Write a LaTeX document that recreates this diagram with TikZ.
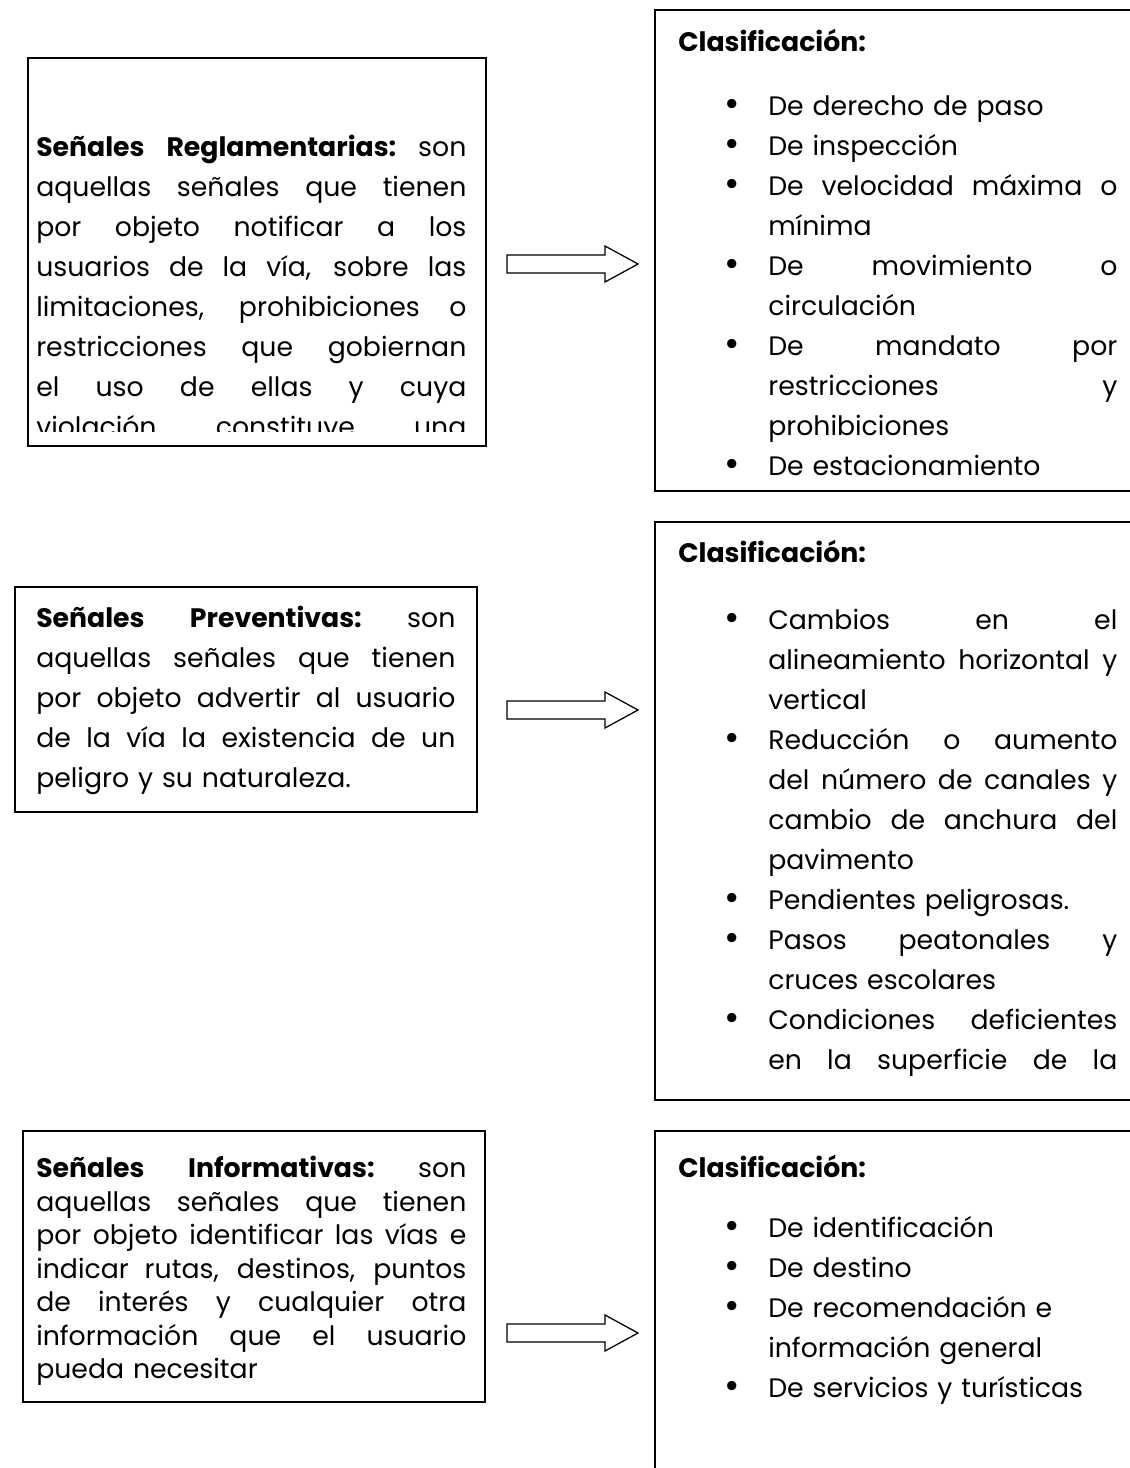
\documentclass[tikz,border=0pt]{standalone}
\usepackage{fontspec}
\setmainfont{Poppins}
\usetikzlibrary{fit}
\newlength{\izqw}\setlength{\izqw}{10.75cm}
\newlength{\prevw}\setlength{\prevw}{10.475cm}
\newlength{\derw}\setlength{\derw}{8.725cm}
\tikzset{
  cajaline/.style={draw=black,line width=1.3pt,inner sep=0pt},
  flechaline/.style={draw=black,line width=0.9pt,fill=white},
  txtizq/.style={inner sep=0pt,anchor=north west,align=left,text width=\izqw,
    font=\fontsize{19}{28.45}\selectfont},
  txtder/.style={inner sep=0pt,anchor=north west,align=left,text width=\derw,
    font=\fontsize{19}{28.45}\selectfont},
  titulo/.style={inner sep=0pt,anchor=north west,font=\fontsize{19}{28.45}\selectfont\bfseries},
}
% linea justificada
\newcommand{\jl}[2][\izqw]{\makebox[#1][s]{%
  \spaceskip=\fontdimen2\font plus 1fil\relax\xspaceskip=\spaceskip #2}}
\newcommand{\bul}{\leavevmode\llap{\raisebox{-0.06em}{\scalebox{1.4}{\textbullet}}\hspace{0.72cm}}}
% caja: nombre, x1, y1, x2, y2
\newcommand{\caja}[5]{%
  \node[cajaline,fit={(#2,#3) (#4,#5)}] (#1) {};}
% flecha de bloque: nombre, x, y
\newcommand{\flecha}[3]{%
  \coordinate (#1) at (#2,#3);
  \draw[flechaline] (#1) ++(0,-9) -- ++(98,0) -- ++(0,-9) -- ++(33,18)
    -- ++(-33,18) -- ++(0,-9) -- ++(-98,0) -- cycle;}

\begin{document}
\begin{tikzpicture}[x=0.025cm,y=-0.025cm]
  \useasboundingbox (0,0) rectangle (1130,1468);
  % cajas
  \caja{regl}{28}{58}{486}{446}
  \caja{reglcl}{655}{10}{1145}{491}
  \caja{prev}{15}{587}{477}{812}
  \caja{prevcl}{655}{522}{1145}{1100}
  \caja{info}{23}{1131}{485}{1402}
  \caja{infocl}{655}{1131}{1145}{1490}
  % textos
  \begin{scope}
    \clip (28,58) rectangle (486,431);
    \node[txtizq] (reglt) at (36,128) {\strut\jl{\textbf{Señales Reglamentarias:} son}\\
      \jl{aquellas señales que tienen}\\ \jl{por objeto notificar a los}\\
      \jl{usuarios de la vía, sobre las}\\ \jl{limitaciones, prohibiciones o}\\
      \jl{restricciones que gobiernan}\\ \jl{el uso de ellas y cuya}\\
      \jl{violación constituye una}};
  \end{scope}
  \node[titulo] (reglclt) at (678,23) {\strut Clasificación:};
  \node[txtder] (reglcll) at (768,87) {\strut\bul De derecho de paso\\
    \bul De inspección\\ \bul\jl[\derw]{De velocidad máxima o}\\ mínima\\
    \bul\jl[\derw]{De movimiento o}\\ circulación\\
    \bul\jl[\derw]{De mandato por}\\ \jl[\derw]{restricciones y}\\ prohibiciones\\
    \bul De estacionamiento};
  \node[txtizq,text width=\prevw] (prevt) at (36,599)
    {\strut\jl[\prevw]{\textbf{Señales Preventivas:} son}\\
    \jl[\prevw]{aquellas señales que tienen}\\
    \jl[\prevw]{por objeto advertir al usuario}\\
    \jl[\prevw]{de la vía la existencia de un}\\ peligro y su naturaleza.};
  \node[titulo] (prevclt) at (678,534) {\strut Clasificación:};
  \node[txtder] (prevcll) at (768,601) {\strut\bul\jl[\derw]{Cambios en el}\\
    \jl[\derw]{alineamiento horizontal y}\\ vertical\\
    \bul\jl[\derw]{Reducción o aumento}\\ \jl[\derw]{del número de canales y}\\
    \jl[\derw]{cambio de anchura del}\\ pavimento\\
    \bul Pendientes peligrosas.\\
    \bul\jl[\derw]{Pasos peatonales y}\\ cruces escolares\\
    \bul\jl[\derw]{Condiciones deficientes}\\ \jl[\derw]{en la superficie de la}};
  \node[txtizq,font=\fontsize{19}{23.8}\selectfont] (infot) at (36,1154)
    {\strut\jl{\textbf{Señales Informativas:} son}\\
    \jl{aquellas señales que tienen}\\ \jl{por objeto identificar las vías e}\\
    \jl{indicar rutas, destinos, puntos}\\ \jl{de interés y cualquier otra}\\
    \jl{información que el usuario}\\ pueda necesitar};
  \node[titulo] (infoclt) at (678,1149) {\strut Clasificación:};
  \node[txtder] (infocll) at (768,1209) {\strut\bul De identificación\\
    \bul De destino\\ \bul De recomendación e\\ información general\\
    \bul De servicios y turísticas};
  % flechas
  \flecha{fa}{507}{264}
  \flecha{fb}{507}{710}
  \flecha{fc}{507}{1333}
\end{tikzpicture}
\end{document}
